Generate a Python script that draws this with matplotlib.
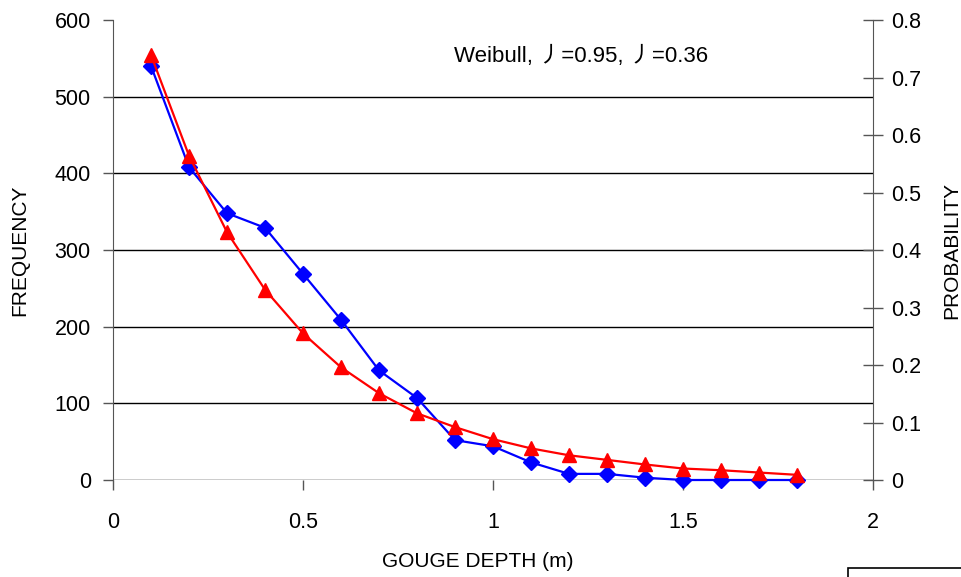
import numpy as np
import matplotlib.pyplot as plt
from matplotlib.patches import Rectangle

plt.rcParams['font.family'] = ['Liberation Sans', 'Noto Sans CJK SC', 'DejaVu Sans']

# data
depth = [0.1, 0.2, 0.3, 0.4, 0.5, 0.6, 0.7, 0.8, 0.9,
         1.0, 1.1, 1.2, 1.3, 1.4, 1.5, 1.6, 1.7, 1.8]
frequency = [540, 408, 348, 329, 269, 209, 143, 107, 52,
             44, 23, 8, 8, 3, 0, 0, 0, 0]
probability = [0.739, 0.564, 0.431, 0.331, 0.255, 0.196, 0.151, 0.116, 0.092,
               0.071, 0.055, 0.043, 0.035, 0.027, 0.020, 0.017, 0.013, 0.009]

x_ticks = [0, 0.5, 1, 1.5, 2]
x_ticklabels = ['0', '0.5', '1', '1.5', '2']
freq_ticks = [0, 100, 200, 300, 400, 500, 600]
prob_ticks = [0, 0.1, 0.2, 0.3, 0.4, 0.5, 0.6, 0.7, 0.8]
prob_ticklabels = ['0', '0.1', '0.2', '0.3', '0.4', '0.5', '0.6', '0.7', '0.8']

fs = 15.5
axc = '#555555'

fig = plt.figure(figsize=(9.61, 5.77), dpi=100)
ax = fig.add_axes([0.1176, 0.1681, 0.7908, 0.7972])
ax2 = ax.twinx()

ax.plot(depth, frequency, color='#0000ff', lw=1.6, marker='D', ms=8.5,
        zorder=4, clip_on=False)
ax2.plot(depth, probability, color='#ff0000', lw=1.6, marker='^', ms=10.5,
         zorder=5, clip_on=False)

ax.set_xlim(0, 2)
ax.set_ylim(0, 600)
ax2.set_ylim(0, 0.7965)

ax.set_xticks(x_ticks)
ax.set_xticklabels(x_ticklabels)
ax.set_yticks(freq_ticks)
ax2.set_yticks(prob_ticks)
ax2.set_yticklabels(prob_ticklabels)

for y in freq_ticks[:-1]:
    ax.axhline(y, color='black', lw=1.0, zorder=1)

for a in (ax, ax2):
    a.spines['top'].set_visible(False)
    a.spines['bottom'].set_visible(False)
    a.spines['left'].set_color(axc)
    a.spines['right'].set_color(axc)
    a.patch.set_visible(False)

ax.spines['right'].set_visible(False)
ax2.spines['left'].set_visible(False)

ax.tick_params(axis='y', direction='out', length=7, width=1, color=axc,
               labelsize=fs, pad=9)
ax.tick_params(axis='x', direction='out', length=7, width=1, color=axc,
               labelsize=fs, pad=16)
ax2.tick_params(axis='y', direction='inout', length=14, width=1, color=axc,
                labelsize=fs, pad=6)

ax.set_xlabel('GOUGE DEPTH (m)', fontsize=15)
ax.set_ylabel('FREQUENCY', fontsize=15)
ax2.set_ylabel('PROBABILITY', fontsize=15)
ax.xaxis.set_label_coords(0.480, -0.157)
ax.yaxis.set_label_coords(-0.11, 0.5)
ax2.yaxis.set_label_coords(1.091, 0.5)

ax.text(0.449, 0.92, 'Weibull, 丿=0.95, 丿=0.36', fontsize=16,
        ha='left', va='center', transform=ax.transAxes)

fig.patches.append(Rectangle((848 / 961, -0.05), 0.2, 1 - 568 / 577 + 0.05,
                             transform=fig.transFigure, fill=False,
                             edgecolor='black', lw=1.2))

fig.savefig('out.png', dpi=100)
